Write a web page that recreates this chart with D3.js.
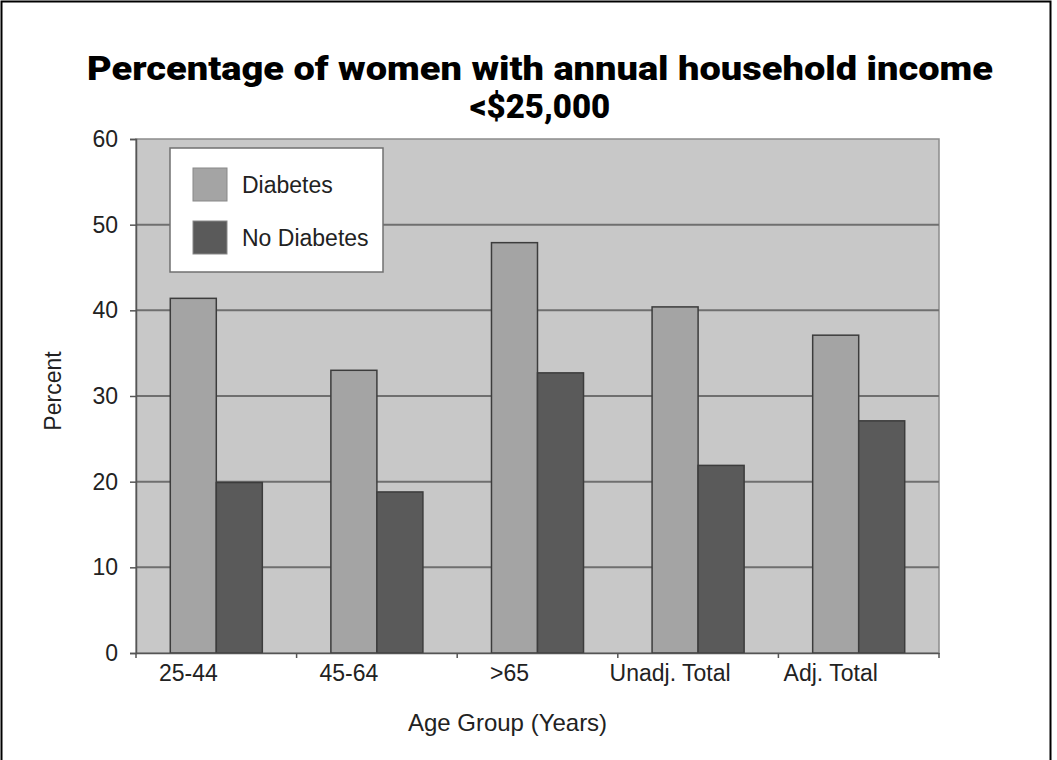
<!DOCTYPE html>
<html>
<head>
<meta charset="utf-8">
<script src="https://cdn.jsdelivr.net/npm/d3@7"></script>
<style>
  html, body { margin: 0; padding: 0; background: #fff; }
  svg { display: block; }
</style>
</head>
<body>
<svg id="chart" width="1057" height="760"></svg>
<script>
// Data
const categories = ["25-44", "45-64", ">65", "Unadj. Total", "Adj. Total"];
const seriesNames = ["Diabetes", "No Diabetes"];
const diabetes = [41.4, 33.0, 47.9, 40.4, 37.1];
const noDiabetes = [19.9, 18.8, 32.7, 21.9, 27.1];
const yTicks = [0, 10, 20, 30, 40, 50, 60];
const titleLines = ["Percentage of women with annual household income", "<$25,000"];
const xTitle = "Age Group (Years)";
const yTitle = "Percent";

const rows = categories.map((c, i) => ({ category: c, values: [diabetes[i], noDiabetes[i]] }));

const colors = { "Diabetes": "#a4a4a4", "No Diabetes": "#5a5a5a" };
const labelFont = "'Liberation Sans', Arial, sans-serif";

const svg = d3.select("#chart");
const W = 1057, H = 760;
const plot = { left: 136, right: 939, top: 139, bottom: 653 };

// Frame around the slide (left, top and right edges)
svg.append("path")
  .attr("d", `M1.5,${H} V1.5 H1050.5 V${H}`)
  .attr("fill", "none").attr("stroke", "#000").attr("stroke-width", 2);

// Title, two centred lines; the first spans the slide width
const titleSize = 33;
const title = svg.append("text")
  .attr("text-anchor", "middle")
  .attr("font-family", "Roboto, 'Liberation Sans', sans-serif")
  .attr("font-weight", 900)
  .attr("font-size", titleSize)
  .attr("fill", "#000");
title.selectAll("tspan").data(titleLines).join("tspan")
  .attr("x", 540)
  .attr("y", (d, i) => 80 + i * 38)
  .text(d => d);
title.select("tspan")
  .attr("textLength", 906)
  .attr("lengthAdjust", "spacingAndGlyphs");

// Scales
const y = d3.scaleLinear().domain([0, 60]).range([plot.bottom, plot.top]);
const x0 = d3.scaleBand().domain(categories).range([plot.left, plot.right]).paddingInner(0).paddingOuter(0);
const x1 = d3.scaleBand().domain(seriesNames).range([0, x0.bandwidth()]).paddingInner(0).paddingOuter(0.745);

// Plot background
svg.append("rect")
  .attr("x", plot.left).attr("y", plot.top)
  .attr("width", plot.right - plot.left).attr("height", plot.bottom - plot.top)
  .attr("fill", "#c8c8c8").attr("stroke", "#8c8c8c").attr("stroke-width", 1.5);

// Gridlines
svg.append("g").selectAll("line")
  .data(yTicks.filter(t => t > 0 && t < 60))
  .join("line")
  .attr("x1", plot.left).attr("x2", plot.right)
  .attr("y1", d => y(d)).attr("y2", d => y(d))
  .attr("stroke", "#6f6f6f").attr("stroke-width", 2);

// Bars
const groups = svg.append("g").selectAll("g")
  .data(rows).join("g")
  .attr("transform", d => `translate(${x0(d.category)},0)`);
groups.selectAll("rect")
  .data(d => d.values.map((v, i) => ({ key: seriesNames[i], value: v })))
  .join("rect")
  .attr("x", d => x1(d.key))
  .attr("width", x1.bandwidth())
  .attr("y", d => y(d.value))
  .attr("height", d => y(0) - y(d.value))
  .attr("fill", d => colors[d.key])
  .attr("stroke", "#3c3c3c").attr("stroke-width", 1.5);

// Y axis
const yAxis = svg.append("g")
  .attr("transform", `translate(${plot.left},0)`)
  .call(d3.axisLeft(y).tickValues(yTicks).tickSize(6).tickPadding(12));
yAxis.select(".domain").attr("stroke", "#555").attr("stroke-width", 1.5);
yAxis.selectAll(".tick line").attr("stroke", "#555").attr("stroke-width", 1.5);
yAxis.selectAll(".tick text")
  .attr("font-family", labelFont)
  .attr("font-size", 23).attr("fill", "#222");

// X axis: ticks at category boundaries
const xAxis = svg.append("g")
  .attr("transform", `translate(0,${plot.bottom})`)
  .call(d3.axisBottom(x0).tickSize(0).tickPadding(12));
xAxis.select(".domain").attr("stroke", "#555").attr("stroke-width", 1.5);
xAxis.selectAll(".tick text")
  .attr("font-family", labelFont)
  .attr("font-size", 23).attr("fill", "#222")
  .attr("dx", -28);
const boundaries = categories.map(c => x0(c)).concat([x0.range()[1]]);
xAxis.append("g").selectAll("line").data(boundaries).join("line")
  .attr("x1", d => d).attr("x2", d => d)
  .attr("y1", 0).attr("y2", 5)
  .attr("stroke", "#555").attr("stroke-width", 1.5);

// Axis titles
svg.append("text")
  .attr("x", (plot.left + plot.right) / 2 - 30).attr("y", 731)
  .attr("text-anchor", "middle")
  .attr("font-family", labelFont)
  .attr("font-size", 24).attr("fill", "#222")
  .text(xTitle);
svg.append("text")
  .attr("transform", `translate(61,391) rotate(-90)`)
  .attr("text-anchor", "middle")
  .attr("font-family", labelFont)
  .attr("font-size", 23).attr("fill", "#222")
  .text(yTitle);

// Legend
const legend = svg.append("g").attr("transform", "translate(170,148)");
legend.append("rect")
  .attr("width", 213).attr("height", 124)
  .attr("fill", "#fff").attr("stroke", "#707070").attr("stroke-width", 1.5);
const items = legend.selectAll("g.item").data(seriesNames).join("g")
  .attr("class", "item")
  .attr("transform", (d, i) => `translate(23,${20 + i * 53})`);
items.append("rect")
  .attr("width", 34).attr("height", 33)
  .attr("fill", d => colors[d]).attr("stroke", "#888").attr("stroke-width", 1);
items.append("text")
  .attr("x", 49).attr("y", 17).attr("dy", "0.35em")
  .attr("font-family", labelFont)
  .attr("font-size", 23).attr("fill", "#222")
  .text(d => d);
</script>
</body>
</html>
